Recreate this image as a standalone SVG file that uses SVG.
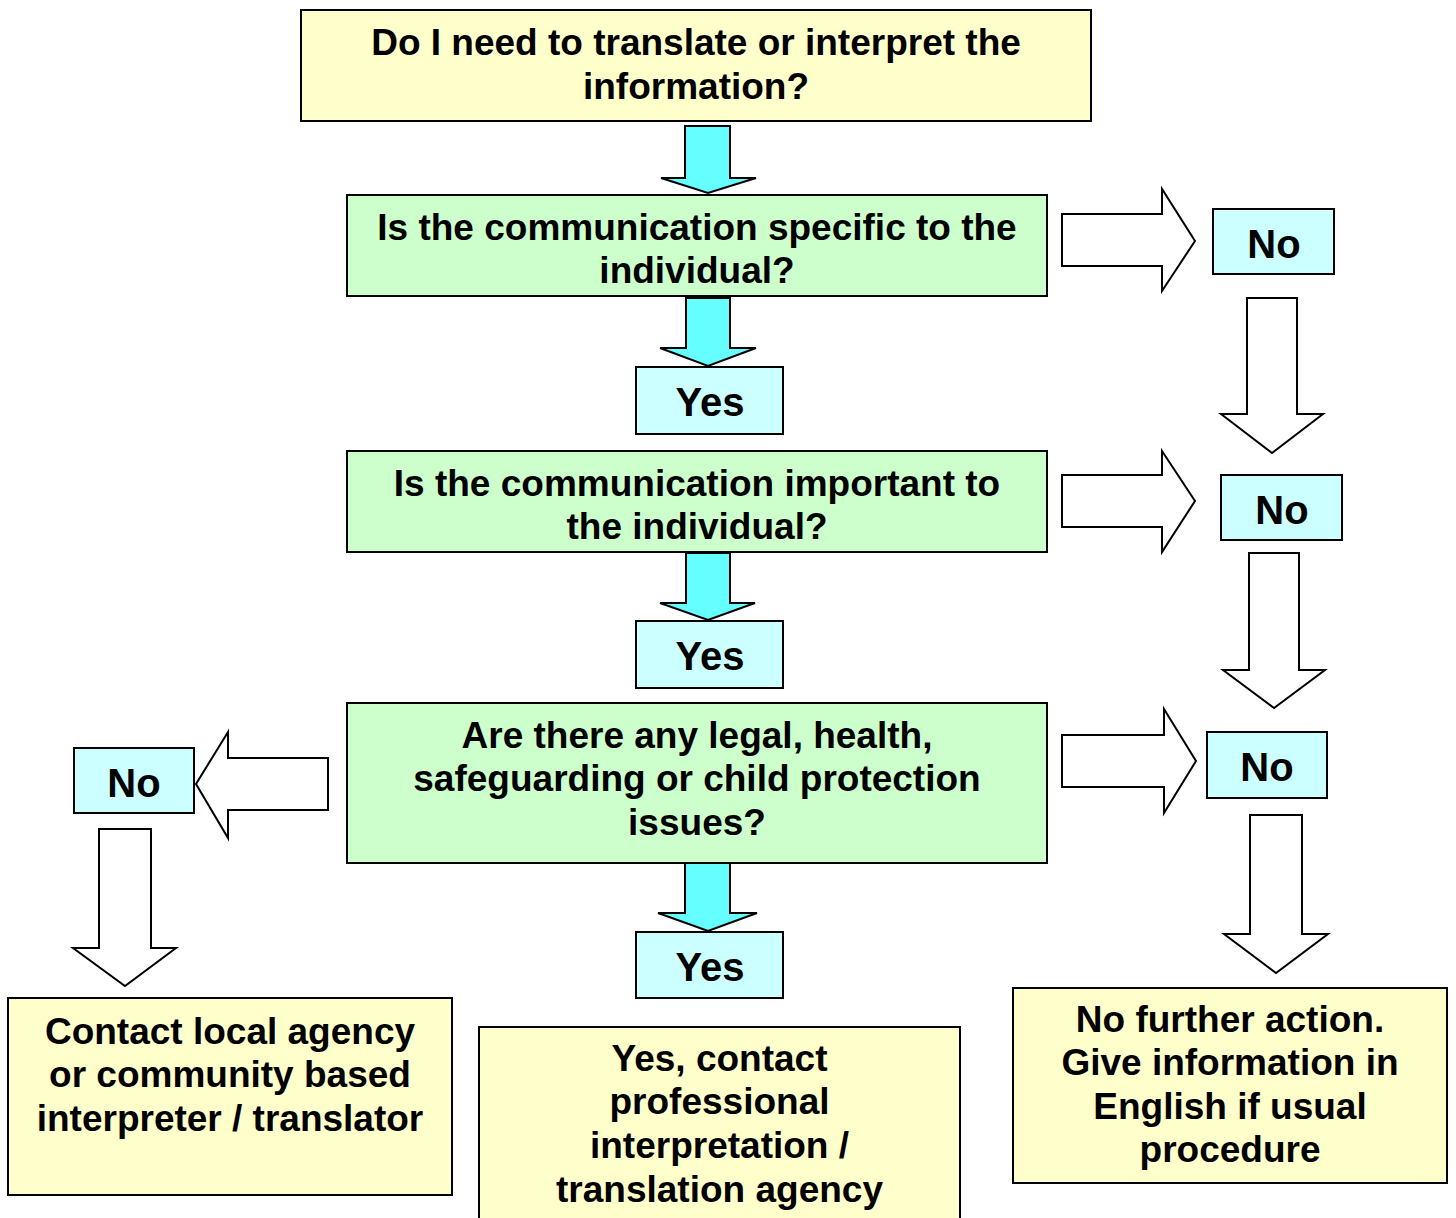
<svg xmlns="http://www.w3.org/2000/svg" width="1456" height="1218" viewBox="0 0 1456 1218">
<style>
.box{stroke:#000;stroke-width:2}
.y{fill:#FFFFCC}
.g{fill:#CCFFCC}
.c{fill:#CCFFFF}
.ca{fill:#66FFFF;stroke:#000;stroke-width:2;stroke-linejoin:miter}
.wa{fill:#FFFFFF;stroke:#000;stroke-width:2;stroke-linejoin:miter}
text{font-family:"Liberation Sans",Arial,sans-serif;font-weight:bold;text-anchor:middle;fill:#000}
.t{font-size:37px}
.yn{font-size:40px}
</style>
<rect width="1456" height="1218" fill="#fff"/>
<g id="connectors">
<polygon class="ca" points="685,126 730,126 730,178 756,178 708,193 661,178 685,178"/>
<polygon class="ca" points="686,298 730,298 730,348 756,348 708,366 660,348 686,348"/>
<polygon class="ca" points="686,553 730,553 730,603 755,603 708,620 660,603 686,603"/>
<polygon class="ca" points="685,863 730,863 730,913 757,913 708,931 658,913 685,913"/>
<polygon class="wa" points="1062,214 1162,214 1162,189 1195,241 1162,291 1162,266 1062,266"/>
<polygon class="wa" points="1062,475 1162,475 1162,451 1195,501 1162,552 1162,527 1062,527"/>
<polygon class="wa" points="1062,735 1164,735 1164,709 1196,761 1164,813 1164,787 1062,787"/>
<polygon class="wa" points="328,758 228,758 228,732 196,784 228,838 228,810 328,810"/>
<polygon class="wa" points="1247,298 1297,298 1297,414 1323,414 1272,453 1221,414 1247,414"/>
<polygon class="wa" points="1249,553 1299,553 1299,670 1325,670 1274,708 1223,670 1249,670"/>
<polygon class="wa" points="1250,815 1302,815 1302,934 1328,934 1276,973 1224,934 1250,934"/>
<polygon class="wa" points="99,829 151,829 151,948 176,948 125,986 73,948 99,948"/>
</g>
<g id="q1"><rect class="box y" x="301" y="10" width="790" height="111"/>
<text class="t" x="696" y="55">Do I need to translate or interpret the</text>
<text class="t" x="696" y="99">information?</text></g>
<g id="q2"><rect class="box g" x="347" y="195" width="700" height="101"/>
<text class="t" x="697" y="240">Is the communication specific to the</text>
<text class="t" x="697" y="283">individual?</text></g>
<g id="yes1"><rect class="box c" x="636" y="367" width="147" height="67"/>
<text class="yn" x="710" y="416">Yes</text></g>
<g id="q3"><rect class="box g" x="347" y="451" width="700" height="101"/>
<text class="t" x="697" y="496">Is the communication important to</text>
<text class="t" x="697" y="539">the individual?</text></g>
<g id="yes2"><rect class="box c" x="636" y="621" width="147" height="67"/>
<text class="yn" x="710" y="670">Yes</text></g>
<g id="q4"><rect class="box g" x="347" y="703" width="700" height="160"/>
<text class="t" x="697" y="748">Are there any legal, health,</text>
<text class="t" x="697" y="791">safeguarding or child protection</text>
<text class="t" x="697" y="835">issues?</text></g>
<g id="yes3"><rect class="box c" x="636" y="932" width="147" height="66"/>
<text class="yn" x="710" y="981">Yes</text></g>
<g id="no1"><rect class="box c" x="1213" y="209" width="121" height="65"/>
<text class="yn" x="1274" y="258">No</text></g>
<g id="no2"><rect class="box c" x="1221" y="475" width="121" height="65"/>
<text class="yn" x="1282" y="524">No</text></g>
<g id="no3"><rect class="box c" x="1207" y="732" width="120" height="66"/>
<text class="yn" x="1267" y="781">No</text></g>
<g id="no4"><rect class="box c" x="74" y="748" width="120" height="65"/>
<text class="yn" x="134" y="797">No</text></g>
<g id="out-left"><rect class="box y" x="8" y="998" width="444" height="197"/>
<text class="t" x="230" y="1044">Contact local agency</text>
<text class="t" x="230" y="1087">or community based</text>
<text class="t" x="230" y="1131">interpreter / translator</text></g>
<g id="out-mid"><rect class="box y" x="479" y="1027" width="481" height="200"/>
<text class="t" x="719.5" y="1071">Yes, contact</text>
<text class="t" x="719.5" y="1114">professional</text>
<text class="t" x="719.5" y="1158">interpretation /</text>
<text class="t" x="719.5" y="1202">translation agency</text></g>
<g id="out-right"><rect class="box y" x="1013" y="988" width="434" height="195"/>
<text class="t" x="1230" y="1032">No further action.</text>
<text class="t" x="1230" y="1075">Give information in</text>
<text class="t" x="1230" y="1119">English if usual</text>
<text class="t" x="1230" y="1162">procedure</text></g>
</svg>
